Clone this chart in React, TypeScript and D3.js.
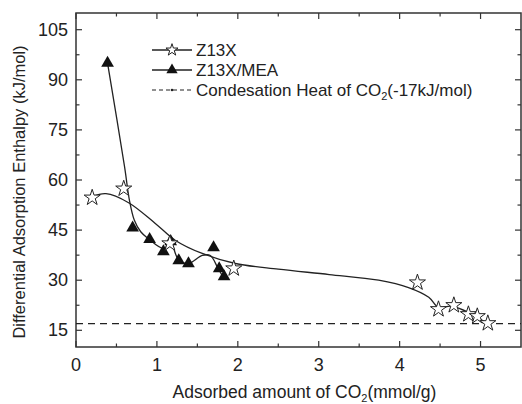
import React, { useEffect, useRef } from 'react'
import * as d3 from 'd3'

// Z13X measured points (mmol/g, kJ/mol)
const z13xX = [0.2, 0.59, 1.16, 1.95, 4.22, 4.48, 4.67, 4.85, 4.96, 5.09]
const z13xY = [55, 57.7, 41.3, 33.8, 29.6, 21.6, 22.8, 20.1, 19.5, 17.4]

// Z13X/MEA measured points
const meaX = [0.39, 0.7, 0.91, 1.08, 1.17, 1.27, 1.39, 1.7, 1.77, 1.83]
const meaY = [95, 45.7, 42.2, 38.6, 41.6, 35.9, 35, 39.8, 33.5, 31.1]

// fitted curves
const z13xFitX = [0.2, 0.37, 0.65, 0.98, 1.23, 1.56, 1.97, 2.5, 3.13, 3.74, 4.11, 4.36, 4.48, 4.64, 4.85, 5.06]
const z13xFitY = [55, 55.9, 53.2, 47, 41.9, 38, 35, 33.3, 31.7, 30, 27.8, 24.9, 21.9, 22.2, 20.4, 17.4]
const meaFitX = [0.39, 0.6, 0.66, 0.72, 0.8, 0.89, 1.08, 1.17, 1.27, 1.39, 1.56, 1.66, 1.75, 1.82]
const meaFitY = [95, 64, 54, 48, 44.5, 42.5, 39.5, 41, 36, 35, 37.4, 37.4, 33.8, 30.8]

const condensationHeat = 17

const xTicks = [0, 1, 2, 3, 4, 5]
const yTicks = [15, 30, 45, 60, 75, 90, 105]

const legendLabels = ['Z13X', 'Z13X/MEA', 'Condesation Heat of CO']

const W = 522
const H = 404
const margin = { top: 13, right: 1, bottom: 57, left: 76 }
const FONT = 'Arial, "Liberation Sans", sans-serif'
const INK = '#222'

export default function App() {
    const svgRef = useRef<SVGSVGElement>(null)

    useEffect(() => {
        const svg = d3.select(svgRef.current)
        svg.selectAll('*').remove()

        const x = d3.scaleLinear().domain([0, 5.5]).range([margin.left, W - margin.right])
        const y = d3.scaleLinear().domain([10, 110]).range([H - margin.bottom, margin.top])

        const g = svg.append('g')

        // Frame
        g.append('rect')
            .attr('x', x(0))
            .attr('y', y(110))
            .attr('width', x(5.5) - x(0))
            .attr('height', y(10) - y(110))
            .attr('fill', 'none')
            .attr('stroke', '#333')
            .attr('stroke-width', 1.5)

        // ticks, inside on all four sides
        const xMinor = d3.range(0.5, 5.5, 1)
        const yMinor = d3.range(22.5, 110, 15)
        const tickG = g.append('g').attr('stroke', '#333').attr('stroke-width', 1.2)
        xTicks.forEach((t) => {
            tickG.append('line').attr('x1', x(t)).attr('x2', x(t)).attr('y1', y(10)).attr('y2', y(10) - 6)
            tickG.append('line').attr('x1', x(t)).attr('x2', x(t)).attr('y1', y(110)).attr('y2', y(110) + 6)
        })
        xMinor.forEach((t) => {
            tickG.append('line').attr('x1', x(t)).attr('x2', x(t)).attr('y1', y(10)).attr('y2', y(10) - 3.5)
            tickG.append('line').attr('x1', x(t)).attr('x2', x(t)).attr('y1', y(110)).attr('y2', y(110) + 3.5)
        })
        yTicks.forEach((t) => {
            tickG.append('line').attr('x1', x(0)).attr('x2', x(0) + 6).attr('y1', y(t)).attr('y2', y(t))
            tickG.append('line').attr('x1', x(5.5)).attr('x2', x(5.5) - 6).attr('y1', y(t)).attr('y2', y(t))
        })
        yMinor.forEach((t) => {
            tickG.append('line').attr('x1', x(0)).attr('x2', x(0) + 3.5).attr('y1', y(t)).attr('y2', y(t))
            tickG.append('line').attr('x1', x(5.5)).attr('x2', x(5.5) - 3.5).attr('y1', y(t)).attr('y2', y(t))
        })

        // tick labels
        g.selectAll('.xl').data(xTicks).enter().append('text')
            .attr('x', (d) => x(d)).attr('y', y(10) + 24)
            .attr('text-anchor', 'middle')
            .attr('font-family', FONT).attr('font-size', 18).attr('fill', INK)
            .text((d) => d)
        g.selectAll('.yl').data(yTicks).enter().append('text')
            .attr('x', x(0) - 8).attr('y', (d) => y(d) + 6)
            .attr('text-anchor', 'end')
            .attr('font-family', FONT).attr('font-size', 18).attr('fill', INK)
            .text((d) => d)

        // axis titles
        const xt = g.append('text')
            .attr('x', (x(0) + x(5.5)) / 2 + 6).attr('y', 398)
            .attr('text-anchor', 'middle')
            .attr('font-family', FONT).attr('font-size', 17.5).attr('fill', INK)
        xt.append('tspan').text('Adsorbed amount of CO')
        xt.append('tspan').attr('font-size', 11).attr('dy', 4).text('2')
        xt.append('tspan').attr('dy', -4).text('(mmol/g)')

        g.append('text')
            .attr('transform', `translate(25,${(y(10) + y(110)) / 2 + 12}) rotate(-90)`)
            .attr('text-anchor', 'middle')
            .attr('font-family', FONT).attr('font-size', 16.5).attr('fill', INK)
            .text('Differential Adsorption Enthalpy (kJ/mol)')

        // condensation line
        g.append('line')
            .attr('x1', x(0)).attr('x2', x(5.5))
            .attr('y1', y(condensationHeat)).attr('y2', y(condensationHeat))
            .attr('stroke', INK).attr('stroke-width', 1.2)
            .attr('stroke-dasharray', '7,5')

        const line = d3.line<number>()
            .curve(d3.curveCatmullRom.alpha(0.5))

        // fitted curves
        g.append('path')
            .attr('d', line.x((d, i) => x(z13xFitX[i])).y((d) => y(d))(z13xFitY))
            .attr('fill', 'none').attr('stroke', INK).attr('stroke-width', 1.3)
        g.append('path')
            .attr('d', line.x((d, i) => x(meaFitX[i])).y((d) => y(d))(meaFitY))
            .attr('fill', 'none').attr('stroke', INK).attr('stroke-width', 1.3)

        const star = d3.symbol().type(d3.symbolStar).size(80)
        const tri = d3.symbol().type(d3.symbolTriangle).size(70)

        g.selectAll('.tri').data(meaY).enter().append('path')
            .attr('d', tri)
            .attr('transform', (d, i) => `translate(${x(meaX[i])},${y(d)})`)
            .attr('fill', '#111')
        g.selectAll('.star').data(z13xY).enter().append('path')
            .attr('d', star)
            .attr('transform', (d, i) => `translate(${x(z13xX[i])},${y(d) + 1})`)
            .attr('fill', '#fff').attr('stroke', INK).attr('stroke-width', 1)

        // legend
        const lg = g.append('g').attr('font-family', FONT).attr('font-size', 17).attr('fill', INK)
        const rows = [50, 70, 90]
        rows.forEach((ry, i) => {
            if (i < 2) {
                lg.append('line').attr('x1', 152).attr('x2', 192).attr('y1', ry).attr('y2', ry)
                    .attr('stroke', INK).attr('stroke-width', 1.3)
            } else {
                lg.append('line').attr('x1', 152).attr('x2', 192).attr('y1', ry).attr('y2', ry)
                    .attr('stroke', INK).attr('stroke-width', 1.2).attr('stroke-dasharray', '4,3')
                lg.append('circle').attr('cx', 172).attr('cy', ry).attr('r', 1.3).attr('fill', INK)
            }
            if (i === 0) {
                lg.append('path').attr('d', d3.symbol().type(d3.symbolStar).size(45))
                    .attr('transform', `translate(172,${ry})`)
                    .attr('fill', '#fff').attr('stroke', INK).attr('stroke-width', 1)
            } else if (i === 1) {
                lg.append('path').attr('d', d3.symbol().type(d3.symbolTriangle).size(55))
                    .attr('transform', `translate(172,${ry})`)
                    .attr('fill', '#111')
            }
            const t = lg.append('text').attr('x', 196).attr('y', ry + 6)
            t.append('tspan').text(legendLabels[i])
            if (i === 2) {
                t.append('tspan').attr('font-size', 11).attr('dy', 4).text('2')
                t.append('tspan').attr('dy', -4).text('(-17kJ/mol)')
            }
        })
    }, [])

    return (
        <div style={{ position: 'absolute', left: 0, top: 0 }}>
            <svg ref={svgRef} width={W} height={H} style={{ display: 'block', background: '#fff' }} />
        </div>
    )
}
